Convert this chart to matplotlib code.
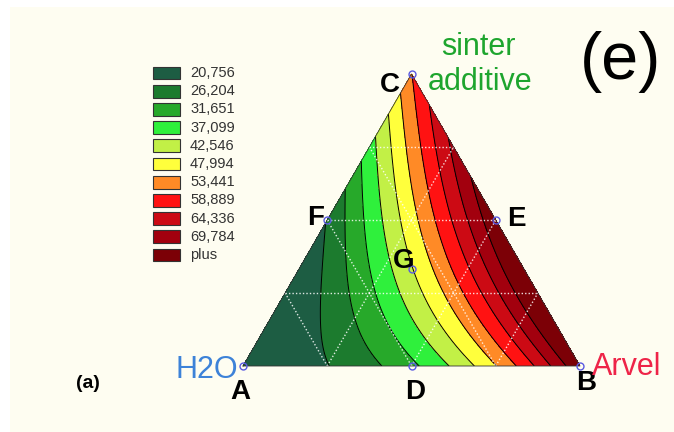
import numpy as np
import matplotlib
matplotlib.use('Agg')
import matplotlib.pyplot as plt
import matplotlib.tri as mtri
from matplotlib.patches import Rectangle

plt.rcParams['font.family'] = ['Liberation Sans', 'DejaVu Sans']

# contour levels and legend
levels = [20.756, 26.204, 31.651, 37.099, 42.546, 47.994, 53.441, 58.889, 64.336, 69.784]
level_labels = ['20,756', '26,204', '31,651', '37,099', '42,546', '47,994',
                '53,441', '58,889', '64,336', '69,784', 'plus']
band_colors = ['#1d5d43', '#1c7b2e', '#27a92a', '#2ff03c', '#c2f046', '#ffff3c',
               '#ff8a26', '#ff1212', '#cc0a14', '#a2000e', '#7c0006']

# response readings off the map: Arvel fraction, sinter additive fraction, value
read_arvel = [0.262, 0.421, 0.505, 0.599, 0.688, 0.757, 0.817, 0.871, 0.916, 0.955,
              0.101, 0.191, 0.275, 0.350, 0.410, 0.469, 0.526, 0.580, 0.632, 0.679,
              0.000, 0.054, 0.113, 0.167, 0.223, 0.277, 0.316, 0.366, 0.405, 0.455,
              0.021, 0.066, 0.105, 0.145, 0.190, 0.240,
              0.000, 0.000, 0.000, 0.000, 0.000,
              0.0, 1.0, 0.0, 0.5, 0.25]
read_sinter = [0.0, 0.0, 0.0, 0.0, 0.0, 0.0, 0.0, 0.0, 0.0, 0.0,
               0.25, 0.25, 0.25, 0.25, 0.25, 0.25, 0.25, 0.25, 0.25, 0.25,
               0.47, 0.5, 0.5, 0.5, 0.5, 0.5, 0.5, 0.5, 0.5, 0.5,
               0.75, 0.75, 0.75, 0.75, 0.75, 0.75,
               0.60, 0.707, 0.79, 0.868, 0.937,
               0.0, 0.0, 1.0, 0.5, 0.75]
read_value = [20.756, 26.204, 31.651, 37.099, 42.546, 47.994, 53.441, 58.889, 64.336, 69.784,
              20.756, 26.204, 31.651, 37.099, 42.546, 47.994, 53.441, 58.889, 64.336, 69.784,
              20.756, 26.204, 31.651, 37.099, 42.546, 47.994, 53.441, 58.889, 64.336, 69.784,
              37.099, 42.546, 47.994, 53.441, 58.889, 64.336,
              26.204, 31.651, 37.099, 42.546, 47.994,
              16.0, 75.5, 53.4, 72.0, 65.0]

# design points (H2O, Arvel, sinter additive)
point_names = ['A', 'B', 'C', 'D', 'E', 'F', 'G']
point_arvel = [0.0, 1.0, 0.0, 0.5, 0.5, 0.0, 1 / 3]
point_sinter = [0.0, 0.0, 1.0, 0.0, 0.5, 0.5, 1 / 3]
# label pixel centres
label_px = [(240, 392), (586, 383), (390, 85), (415, 392), (516, 219), (316, 218), (404, 261)]

H = np.sqrt(3) / 2


def cart(b, c):
    b = np.asarray(b, float)
    c = np.asarray(c, float)
    return b + c / 2, c * H


def terms(a, b, c):
    return np.column_stack([a, b, c, a * b, a * c, b * c,
                            a * b * (a - b), a * c * (a - c), b * c * (b - c), a * b * c])


# fit a full cubic mixture model to the readings
rb = np.array(read_arvel)
rc = np.array(read_sinter)
coef, *_ = np.linalg.lstsq(terms(1 - rb - rc, rb, rc), np.array(read_value), rcond=None)

n = 150
gb, gc = [], []
for i in range(n + 1):
    for j in range(n + 1 - i):
        gb.append(i / n)
        gc.append(j / n)
gb = np.array(gb)
gc = np.array(gc)
z = terms(1 - gb - gc, gb, gc) @ coef
gx, gy = cart(gb, gc)
tri = mtri.Triangulation(gx, gy)

fig = plt.figure(figsize=(6.74, 4.32), dpi=100, facecolor='white')
fig.add_artist(Rectangle((10 / 674, 0), 664 / 674, 425 / 432, transform=fig.transFigure,
                         facecolor='#fefdf1', edgecolor='none', zorder=-10))


def px(x, y):
    return x / 674, 1 - y / 432


ax = fig.add_axes([243 / 674, 66 / 432, 337 / 674, 292 / 432])
ax.set_xlim(0, 1)
ax.set_ylim(0, H)
ax.axis('off')

bounds = [-1e3] + levels + [1e3]
ax.tricontourf(tri, z, levels=bounds, colors=band_colors)
ax.tricontour(tri, z, levels=levels, colors='black', linewidths=0.7)

# dotted grid
for v in [0.25, 0.5, 0.75]:
    for seg in [((0, v), (1 - v, v)), ((0, 1 - v), (1 - v, 0)), ((v, 0), (v, 1 - v))]:
        xs, ys = cart([seg[0][0], seg[1][0]], [seg[0][1], seg[1][1]])
        ax.plot(xs, ys, color='white', lw=1.0, ls=(0, (1, 1.5)), alpha=0.85)

ox, oy = cart([0, 1, 0, 0], [0, 0, 1, 0])
ax.plot(ox, oy, color='#333333', lw=0.6, clip_on=False)

mx, my = cart(point_arvel, point_sinter)
ax.plot(mx, my, 'o', ms=5, mfc='none', mec='#5a5ae0', mew=1.0, clip_on=False)

for name, (lx, ly) in zip(point_names, label_px):
    fig.text(*px(lx, ly), name, ha='center', va='center', fontsize=20,
             fontweight='bold', color='black')

fig.text(*px(238, 378), 'H2O', ha='right', va='baseline', fontsize=22, color='#3d82d8')
fig.text(*px(592, 375), 'Arvel', ha='left', va='baseline', fontsize=22, color='#ee2448')
fig.text(*px(478, 55), 'sinter', ha='center', va='baseline', fontsize=22, color='#1ea52e')
fig.text(*px(480, 90), 'additive', ha='center', va='baseline', fontsize=22, color='#1ea52e')
fig.text(*px(621, 62), '(e)', ha='center', va='center', fontsize=48, color='black')
fig.text(*px(88, 383), '(a)', ha='center', va='center', fontsize=14, fontweight='bold',
         color='black')

# legend
for i, (lab, col) in enumerate(zip(level_labels, band_colors)):
    yc = 73 + i * 18.2
    x0, y0 = px(153, yc + 6.3)
    fig.add_artist(Rectangle((x0, y0), 27 / 674, 12.7 / 432, transform=fig.transFigure,
                             facecolor=col, edgecolor='#333333', lw=0.8))
    fig.text(*px(190, yc), lab, ha='left', va='center', fontsize=10.5, color='#333333')

fig.savefig('out.png', dpi=100, facecolor=fig.get_facecolor())
